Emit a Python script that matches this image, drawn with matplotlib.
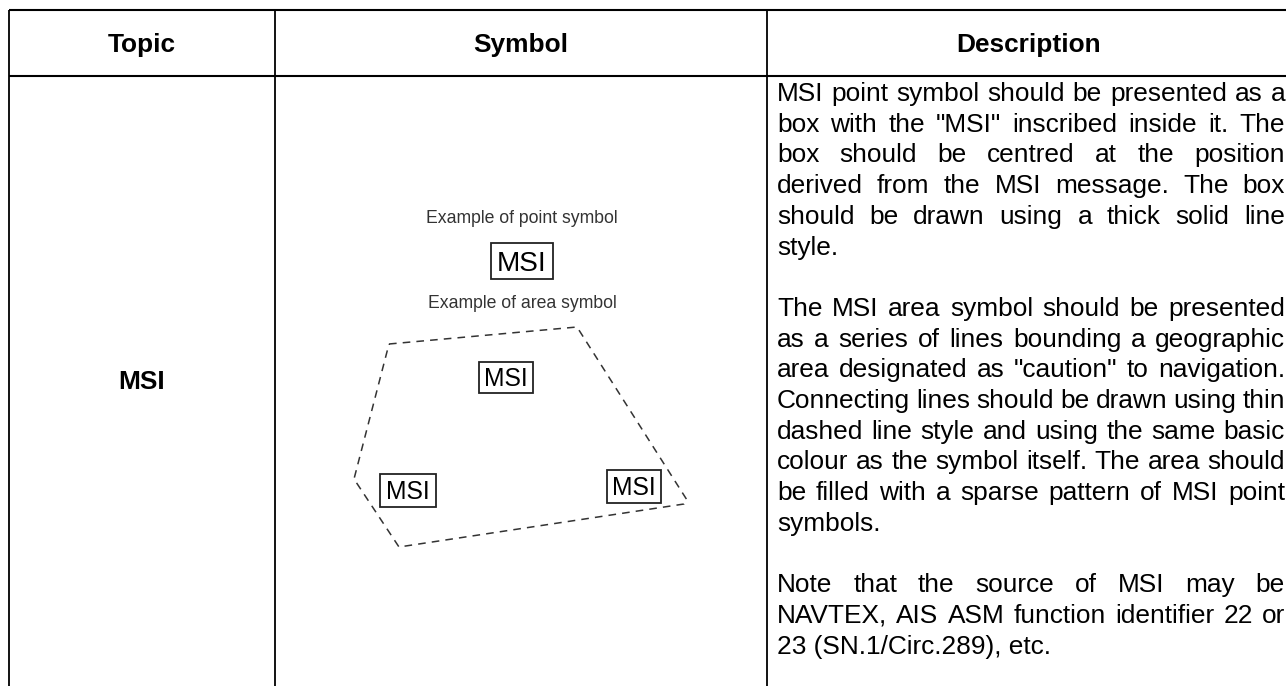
import matplotlib
matplotlib.use("Agg")
import matplotlib.pyplot as plt
from matplotlib.patches import Rectangle, Polygon

plt.rcParams["font.family"] = ["Liberation Sans", "DejaVu Sans"]

# ===============================
# Table content
# ===============================
headers = ["Topic", "Symbol", "Description"]
header_x = [142, 521, 1029]
topic_label = "MSI"

point_caption = "Example of point symbol"
area_caption = "Example of area symbol"
box_label = "MSI"

# point symbol box: centre, width, height (pixels)
point_box = (522, 261, 62, 36)

# area symbol boxes
area_box_x = [506, 408, 634]
area_box_y = [377, 490, 486]
area_box_w = [54, 56, 54]
area_box_h = [31, 33, 33]

# dashed area outline
area_x = [389, 577, 687, 684, 399, 354]
area_y = [344, 327, 500, 504, 547, 479]

# description lines, True = justified
desc_lines = [
    ('MSI point symbol should be presented as a', True),
    ('box with the "MSI" inscribed inside it. The', True),
    ('box should be centred at the position', True),
    ('derived from the MSI message. The box', True),
    ('should be drawn using a thick solid line', True),
    ('style.', False),
    ('', False),
    ('The MSI area symbol should be presented', True),
    ('as a series of lines bounding a geographic', True),
    ('area designated as "caution" to navigation.', True),
    ('Connecting lines should be drawn using thin', True),
    ('dashed line style and using the same basic', True),
    ('colour as the symbol itself. The area should', True),
    ('be filled with a sparse pattern of MSI point', True),
    ('symbols.', False),
    ('', False),
    ('Note that the source of MSI may be', True),
    ('NAVTEX, AIS ASM function identifier 22 or', True),
    ('23 (SN.1/Circ.289), etc.', False),
]

W, H = 1286, 686
fig = plt.figure(figsize=(W / 100, H / 100), dpi=100)
ax = fig.add_axes([0, 0, 1, 1])
ax.set_xlim(0, W)
ax.set_ylim(H, 0)
ax.axis("off")
renderer = fig.canvas.get_renderer()

# ---- grid lines ----
top, head_bot = 10, 76
col_x = [9, 275, 767]
ax.plot([col_x[0], W + 5], [top, top], color="black", lw=1.5, solid_capstyle="butt")
ax.plot([col_x[0], W + 5], [head_bot, head_bot], color="black", lw=1.5, solid_capstyle="butt")
for cx in col_x:
    ax.plot([cx, cx], [top, H + 5], color="black", lw=1.3, solid_capstyle="butt")

# ---- header + topic ----
fs = 18.9
for name, hx in zip(headers, header_x):
    ax.text(hx, 52, name, ha="center", va="baseline", fontsize=fs, fontweight="bold")
ax.text(header_x[0], 389, topic_label, ha="center", va="baseline", fontsize=fs, fontweight="bold")

# ---- symbol column ----
cap_color = "#333333"
ax.text(522, 223, point_caption, ha="center", va="baseline", fontsize=12.7, color=cap_color)
ax.text(522, 308, area_caption, ha="center", va="baseline", fontsize=12.7, color=cap_color)


def msi_box(cx, cy, w, h, size):
    ax.add_patch(Rectangle((cx - w / 2, cy - h / 2), w, h, fill=False,
                           edgecolor="#222222", lw=1.3))
    cap = size / 72 * 100 * 0.716
    ax.text(cx, cy + cap / 2, box_label, ha="center", va="baseline",
            fontsize=size, color="black")


msi_box(*point_box, size=20.2)
for bx, by, bw, bh in zip(area_box_x, area_box_y, area_box_w, area_box_h):
    msi_box(bx, by, bw, bh, size=17.8)

ax.add_patch(Polygon(list(zip(area_x, area_y)), closed=True, fill=False,
                     edgecolor="#333333", lw=1.1, linestyle=(0, (5, 4))))

# ---- description column (justified) ----
left, right = 777, 1285
base0, step = 101, 30.7
for i, (line, justify) in enumerate(desc_lines):
    if not line:
        continue
    y = base0 + i * step
    if not justify:
        ax.text(left, y, line, ha="left", va="baseline", fontsize=fs)
        continue
    words = line.split(" ")
    items = [ax.text(0, y, wd, ha="left", va="baseline", fontsize=fs) for wd in words]
    widths = [t.get_window_extent(renderer).width for t in items]
    gap = (right - left - sum(widths)) / (len(words) - 1)
    x = left
    for t, wd in zip(items, widths):
        t.set_x(x)
        x += wd + gap

fig.savefig("out.png", dpi=100, facecolor="white")
